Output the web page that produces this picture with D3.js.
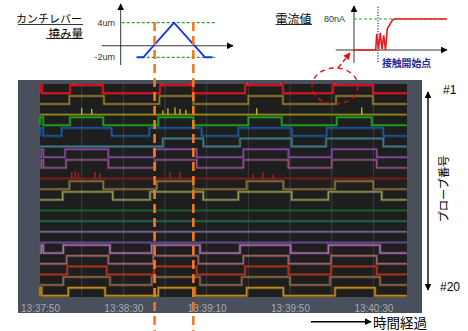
<!DOCTYPE html>
<html><head><meta charset="utf-8">
<script src="https://cdn.jsdelivr.net/npm/d3@7"></script>
<style>body{margin:0;background:#fff;} svg{display:block}</style>
</head><body>
<svg id="c" width="468" height="331"></svg>
<script>
// ---------- DATA ----------
const probes = d3.range(1, 21).map(i => "#" + i);
const tickSeconds = [0, 40, 80, 120, 160];
const tickLabels = ["13:37:50", "13:38:30", "13:39:10", "13:39:50", "13:40:30"];
const gridSeconds = [20, 40, 60, 80, 100, 120, 140, 160];
const timeSpan = [0, 176];
// high (contact) intervals per probe, seconds after 13:37:50
const pulses = [
  [[0,1],[14.4,30.2],[57.6,73.4],[98.4,116.6],[140.6,159.8]],
  [[14.1,30.7],[57.3,73.6],[100,116.6],[142.1,159.8]],
  [],
  [[0,1.5],[14.4,30.4],[56.8,73.6],[100,116],[142.4,159.2]],
  [[0,1.5],[10.4,34.4],[52.5,77.6],[95.2,120.8],[137.6,164.8]],
  [[58.9,78.4],[96,120.8],[137.3,164.8]],
  [[0.6,1.6],[12,32.8],[54.7,75.2],[97.6,119.2],[140,161.6]],
  [[0.6,1.6],[12.5,32.8],[55.2,75.2],[97.6,119.2],[140,161.6]],
  [],
  [[14.1,30.4],[56,73.6],[99.2,116.8],[141.6,160]],
  [[10.9,34.9],[52.8,78.4],[95.2,120.8],[138.4,164]],
  [], [], [], [],
  [[0.6,1.6],[11.2,33.6],[53.6,76.8],[96,120.3],[138.4,163.2]],
  [[12.8,32.8],[54.4,76],[97.6,119.2],[139.7,161.6]],
  [[13.1,32],[54.7,75.2],[98.4,119.2],[139.7,161.6]],
  [[11.2,33.6],[53.6,76.8],[96.8,120],[139.2,163.2]],
  [[0,0.8],[13.6,31.2],[56.8,74.4],[99.2,116.8],[141.6,160.8]]
];
// short spikes: [probe index, time s, relative height]
const spikes = [
  [0,15.5,1.3],[0,17,1.2],[0,29.5,1.2],[0,58.5,1.3],[0,72.5,1.4],[0,99.5,1.4],[0,101,1.2],[0,115.5,1.3],[0,141.5,1.4],[0,143,1.2],
  [2,20,0.8],[2,24.8,0.7],[2,59,0.5],[2,61.4,0.8],[2,64.8,0.9],[2,67.2,0.7],[2,70,0.6],[2,104,0.8],[2,154.4,0.9],
  [8,15.2,0.8],[8,16.8,0.9],[8,18.4,0.7],[8,26.4,0.8],[8,28.8,0.7],[8,62.4,0.8],[8,67.2,0.8],[8,102.2,0.6],[8,107,0.8],[8,111.8,0.5]
];
const traceColors = ["#e8141c","#8c7a2c","#8a8a1e","#1aa21a","#1c5aa0","#3e7c86","#8048a0","#8c5282","#7a1a1a","#8c7238",
  "#8e9a52","#1c5c2c","#1c6c50","#6c6488","#5c4c90","#b070b0","#9c6068","#b83418","#8c6448","#c08c18"];
// contact-start markers (orange dashed), seconds
const contactTimes = [55, 73.6];
// cantilever deflection inset
const cantTime = [46.4, 49.6, 64.3, 79.2, 82.6];
const cantUm = [-2, -2, 4, -2, -2];
const cantTicks = [4, -2];
// current inset
const curT  = [0, 21.7, 22.7, 24.5, 26.3, 28, 29.7, 31.5, 33.3, 35, 36.7, 38.5, 40, 93];
const curNA = [0, 0, 42, 2, 44, 2, 38, 0, 55, 62, 70, 77, 80, 80];

// ---------- DRAW ----------
const svg = d3.select("#c");
const defs = svg.append("defs");
function marker(id, color, size) {
  defs.append("marker").attr("id", id).attr("viewBox", "0 0 10 10").attr("refX", 9).attr("refY", 5)
    .attr("markerWidth", size).attr("markerHeight", size).attr("orient", "auto-start-reverse")
    .attr("markerUnits", "userSpaceOnUse")
    .append("path").attr("d", "M0,0 L10,5 L0,10 Z").attr("fill", color);
}
marker("ak", "#000", 7);
marker("ar", "#e01010", 7);

// main panel
const x = d3.scaleLinear().domain(timeSpan).range([40, 406.7]);
const y = d3.scalePoint().domain(probes).range([93.3, 295.7]);
const amp = 8;

svg.append("rect").attr("x", 18).attr("y", 80).attr("width", 404).attr("height", 233).attr("fill", "#4a4f5c");
svg.append("rect").attr("x", 40).attr("y", 84).attr("width", 367).attr("height", 213).attr("fill", "#1e1e1f");

svg.append("g").selectAll("line").data(gridSeconds).join("line")
  .attr("x1", d => x(d)).attr("x2", d => x(d)).attr("y1", 84).attr("y2", 297)
  .attr("stroke", "#3c3e42").attr("stroke-width", 1);

function tracePoints(pl) {
  const pts = [];
  if (!pl.length || pl[0][0] > 0) pts.push([timeSpan[0], 0]);
  pl.forEach(([a, b]) => { pts.push([a, 0], [a, 1], [b, 1], [b, 0]); });
  pts.push([timeSpan[1], 0]);
  return pts;
}
const line = d3.line();
const traces = svg.append("g");
probes.forEach((p, i) => {
  const pts = tracePoints(pulses[i]).map(([t, v]) => [x(t), y(p) - v * amp]);
  traces.append("path").attr("d", line(pts)).attr("fill", "none")
    .attr("stroke", traceColors[i]).attr("stroke-opacity", 0.35).attr("stroke-width", 3);
  traces.append("path").attr("d", line(pts)).attr("fill", "none")
    .attr("stroke", traceColors[i]).attr("stroke-width", 1.4);
});
traces.append("g").selectAll("line").data(spikes).join("line")
  .attr("x1", d => x(d[1])).attr("x2", d => x(d[1]))
  .attr("y1", d => y(probes[d[0]]) - (pulses[d[0]].some(([a,b]) => d[1] >= a && d[1] <= b) ? amp : 0))
  .attr("y2", d => y(probes[d[0]]) - d[2] * amp)
  .attr("stroke", d => d3.color(traceColors[d[0]]).brighter(0.8)).attr("stroke-width", 1.4);

const ax = d3.axisBottom(x).tickValues(tickSeconds).tickFormat((d, i) => tickLabels[i]).tickSize(0);
const axg = svg.append("g").attr("transform", "translate(0,302)").call(ax);
axg.select(".domain").remove();
axg.selectAll("text").attr("fill", "#a9adb5").attr("font-family", "Liberation Sans, Arial, sans-serif")
  .attr("font-size", 10).attr("dy", "0.71em");

// right annotations
svg.append("line").attr("x1", 428).attr("x2", 428).attr("y1", 92).attr("y2", 290)
  .attr("stroke", "#000").attr("stroke-width", 1.4)
  .attr("marker-start", "url(#ak)").attr("marker-end", "url(#ak)");
const sans = "Liberation Sans, Arial, sans-serif";
const jp = "Noto Sans CJK JP, sans-serif";
svg.append("text").attr("x", 443).attr("y", 94).attr("font-family", sans).attr("font-size", 12).text(probes[0]);
svg.append("text").attr("x", 440).attr("y", 291).attr("font-family", sans).attr("font-size", 12).text(probes[19]);
svg.append("text").attr("transform", "translate(443,189) rotate(-90)").attr("text-anchor", "middle")
  .attr("dominant-baseline", "central").attr("font-family", jp).attr("font-size", 11.3).text("プローブ番号");
svg.append("line").attr("x1", 311).attr("x2", 371).attr("y1", 321.7).attr("y2", 321.7)
  .attr("stroke", "#000").attr("stroke-width", 1.4).attr("marker-end", "url(#ak)");
svg.append("text").attr("x", 373).attr("y", 322).attr("dominant-baseline", "central")
  .attr("font-family", jp).attr("font-size", 13.5).text("時間経過");

// ---- cantilever inset ----
const yc = d3.scaleLinear().domain([-2, 4]).range([57.3, 22.7]);
svg.append("line").attr("x1", 101.7).attr("x2", 233).attr("y1", yc(0)).attr("y2", yc(0))
  .attr("stroke", "#000").attr("stroke-width", 0.8).attr("marker-end", "url(#ak)");
svg.append("line").attr("x1", 120.7).attr("x2", 120.7).attr("y1", 65).attr("y2", 4)
  .attr("stroke", "#000").attr("stroke-width", 0.8).attr("marker-end", "url(#ak)");
svg.append("g").selectAll("line").data(cantTicks).join("line")
  .attr("x1", (d) => d > 0 ? 121.7 : 136.7).attr("x2", 216.7)
  .attr("y1", d => yc(d)).attr("y2", d => yc(d))
  .attr("stroke", "#2aa02a").attr("stroke-width", 1.2).attr("stroke-dasharray", "3,2");
svg.append("g").selectAll("text").data(cantTicks).join("text")
  .attr("x", 115).attr("y", d => yc(d)).attr("text-anchor", "end").attr("dominant-baseline", "central")
  .attr("font-family", sans).attr("font-size", 9).attr("fill", "#333").text(d => d + "um");
svg.append("path").attr("d", d3.line()(cantTime.map((t, i) => [x(t), yc(cantUm[i])])))
  .attr("fill", "none").attr("stroke", "#1a35f0").attr("stroke-width", 2);
svg.append("text").attr("x", 82).attr("y", 18).attr("text-anchor", "end").attr("dominant-baseline", "central")
  .attr("font-family", jp).attr("font-size", 11).text("カンチレバー");
svg.append("line").attr("x1", 18).attr("x2", 83).attr("y1", 24.5).attr("y2", 24.5).attr("stroke", "#000").attr("stroke-width", 0.8);
svg.append("text").attr("x", 83).attr("y", 32.5).attr("text-anchor", "end").attr("dominant-baseline", "central")
  .attr("font-family", jp).attr("font-size", 11.5).text("撓み量");
svg.append("line").attr("x1", 46).attr("x2", 83).attr("y1", 38.5).attr("y2", 38.5).attr("stroke", "#000").attr("stroke-width", 0.8);

// ---- current inset ----
const xi = d3.scaleLinear().domain([0, 93]).range([354, 447]);
const yi = d3.scaleLinear().domain([0, 80]).range([50, 19]);
svg.append("line").attr("x1", 335.7).attr("x2", 447).attr("y1", yi(0)).attr("y2", yi(0))
  .attr("stroke", "#000").attr("stroke-width", 0.8).attr("marker-end", "url(#ak)");
svg.append("line").attr("x1", 354).attr("x2", 354).attr("y1", 63).attr("y2", 6)
  .attr("stroke", "#000").attr("stroke-width", 0.8).attr("marker-end", "url(#ak)");
svg.append("line").attr("x1", 354).attr("x2", 445.7).attr("y1", yi(80)).attr("y2", yi(80))
  .attr("stroke", "#2aa02a").attr("stroke-width", 1.2).attr("stroke-dasharray", "3,2");
svg.append("text").attr("x", 345).attr("y", yi(80)).attr("text-anchor", "end").attr("dominant-baseline", "central")
  .attr("font-family", sans).attr("font-size", 9).attr("fill", "#333").text("80nA");
svg.append("line").attr("x1", xi(24)).attr("x2", xi(24)).attr("y1", 6.7).attr("y2", 63)
  .attr("stroke", "#2030a0").attr("stroke-width", 1.2).attr("stroke-dasharray", "1.2,1.5");
svg.append("path").attr("d", d3.line()(curT.map((t, i) => [xi(t), yi(curNA[i])])))
  .attr("fill", "none").attr("stroke", "#ee1a1a").attr("stroke-width", 1.6);
svg.append("text").attr("x", 382).attr("y", 62.5).attr("dominant-baseline", "central")
  .attr("font-family", jp).attr("font-weight", "bold").attr("font-size", 9.8).attr("fill", "#1a2a9a").text("接触開始点");
svg.append("text").attr("x", 311.5).attr("y", 18).attr("text-anchor", "end").attr("dominant-baseline", "central")
  .attr("font-family", jp).attr("font-size", 12).text("電流値");
svg.append("line").attr("x1", 275.5).attr("x2", 312).attr("y1", 24.5).attr("y2", 24.5).attr("stroke", "#000").attr("stroke-width", 0.8);

// red dashed ellipse + arrow
svg.append("ellipse").attr("cx", 335).attr("cy", 86).attr("rx", 23).attr("ry", 18)
  .attr("fill", "none").attr("stroke", "#e01010").attr("stroke-width", 1.4).attr("stroke-dasharray", "5,4");
svg.append("line").attr("x1", 338).attr("y1", 68).attr("x2", 350).attr("y2", 53)
  .attr("stroke", "#e01010").attr("stroke-width", 1.4).attr("stroke-dasharray", "5,3").attr("marker-end", "url(#ar)");

// orange dashed contact lines
svg.append("g").selectAll("line").data(contactTimes).join("line")
  .attr("x1", d => x(d)).attr("x2", d => x(d)).attr("y1", 22).attr("y2", 331)
  .attr("stroke", "#f47a20").attr("stroke-width", 2.6).attr("stroke-dasharray", "9,5");
</script>
</body></html>
